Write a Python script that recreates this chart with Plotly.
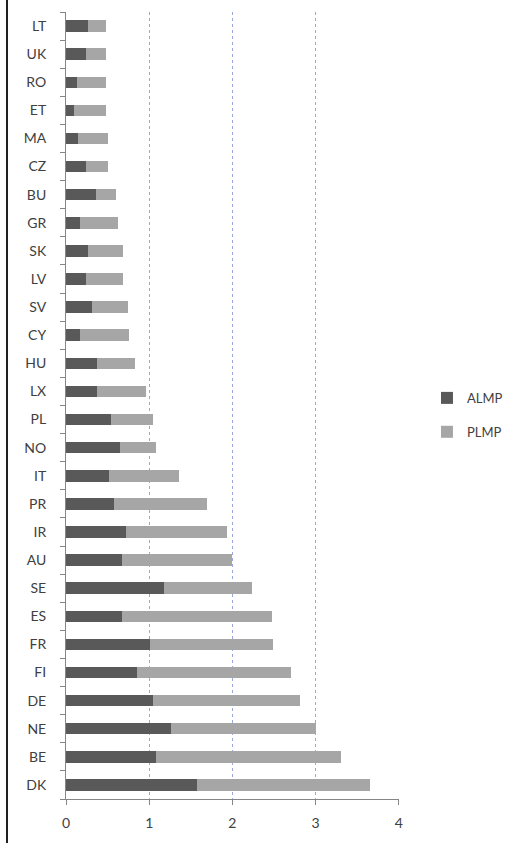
import plotly.graph_objects as go

# categories listed bottom -> top
countries = ["DK", "BE", "NE", "DE", "FI", "FR", "ES", "SE", "AU", "IR", "PR", "IT", "NO", "PL",
             "LX", "HU", "CY", "SV", "LV", "SK", "GR", "BU", "CZ", "MA", "ET", "RO", "UK", "LT"]
almp = [1.58, 1.08, 1.26, 1.04, 0.85, 1.01, 0.67, 1.18, 0.67, 0.72, 0.58, 0.52, 0.65, 0.54,
        0.37, 0.37, 0.17, 0.31, 0.24, 0.26, 0.17, 0.36, 0.24, 0.15, 0.10, 0.13, 0.24, 0.26]
total = [3.65, 3.31, 3.00, 2.81, 2.70, 2.49, 2.47, 2.24, 2.00, 1.94, 1.70, 1.36, 1.08, 1.05,
         0.96, 0.83, 0.76, 0.74, 0.69, 0.69, 0.63, 0.60, 0.51, 0.51, 0.48, 0.48, 0.48, 0.48]
plmp = [round(t - a, 2) for t, a in zip(total, almp)]
x_ticks = [0, 1, 2, 3, 4]

font_family = "Lato, 'Open Sans', sans-serif"

fig = go.Figure()
fig.add_trace(go.Bar(y=countries, x=almp, orientation="h", name="ALMP",
                     marker=dict(color="#595959", line=dict(width=0)), legendgroup="a"))
fig.add_trace(go.Bar(y=countries, x=plmp, orientation="h", name="PLMP",
                     marker=dict(color="#a6a6a6", line=dict(width=0)), legendgroup="b"))

fig.update_layout(
    width=510, height=843,
    margin=dict(l=66, r=111, t=12, b=44, autoexpand=False),
    barmode="stack", bargap=0.59,
    plot_bgcolor="white", paper_bgcolor="white",
    font=dict(family=font_family, color="#404040", size=14),
    legend=dict(x=1.084, xanchor="left", y=0.488, yanchor="middle",
                traceorder="grouped", tracegroupgap=14,
                font=dict(size=13, color="#404040"), itemwidth=30),
    xaxis=dict(range=[0, 4.002], tickvals=x_ticks, showgrid=True,
               gridcolor="#9aa6dc", griddash="dot", gridwidth=1,
               showline=True, linecolor="#868686", linewidth=1,
               ticks="outside", ticklen=5, tickcolor="#868686", automargin=False,
               zeroline=False, tickfont=dict(size=14), ticklabelstandoff=6),
    yaxis=dict(categoryorder="array", categoryarray=countries,
               showline=True, linecolor="#868686", linewidth=1, automargin=False,
               ticks="outside", ticklen=5, tickcolor="#868686", tickson="boundaries",
               showgrid=False, tickfont=dict(size=14), ticklabelstandoff=16),
    shapes=[dict(type="line", xref="paper", yref="paper", xsizemode="pixel", xanchor=0,
                 x0=-59, x1=-59, y0=-0.2, y1=1.2, line=dict(color="#202020", width=2))],
)

fig.write_html("out.html", config={"displayModeBar": False},
               post_script="document.body.style.margin='0';")
